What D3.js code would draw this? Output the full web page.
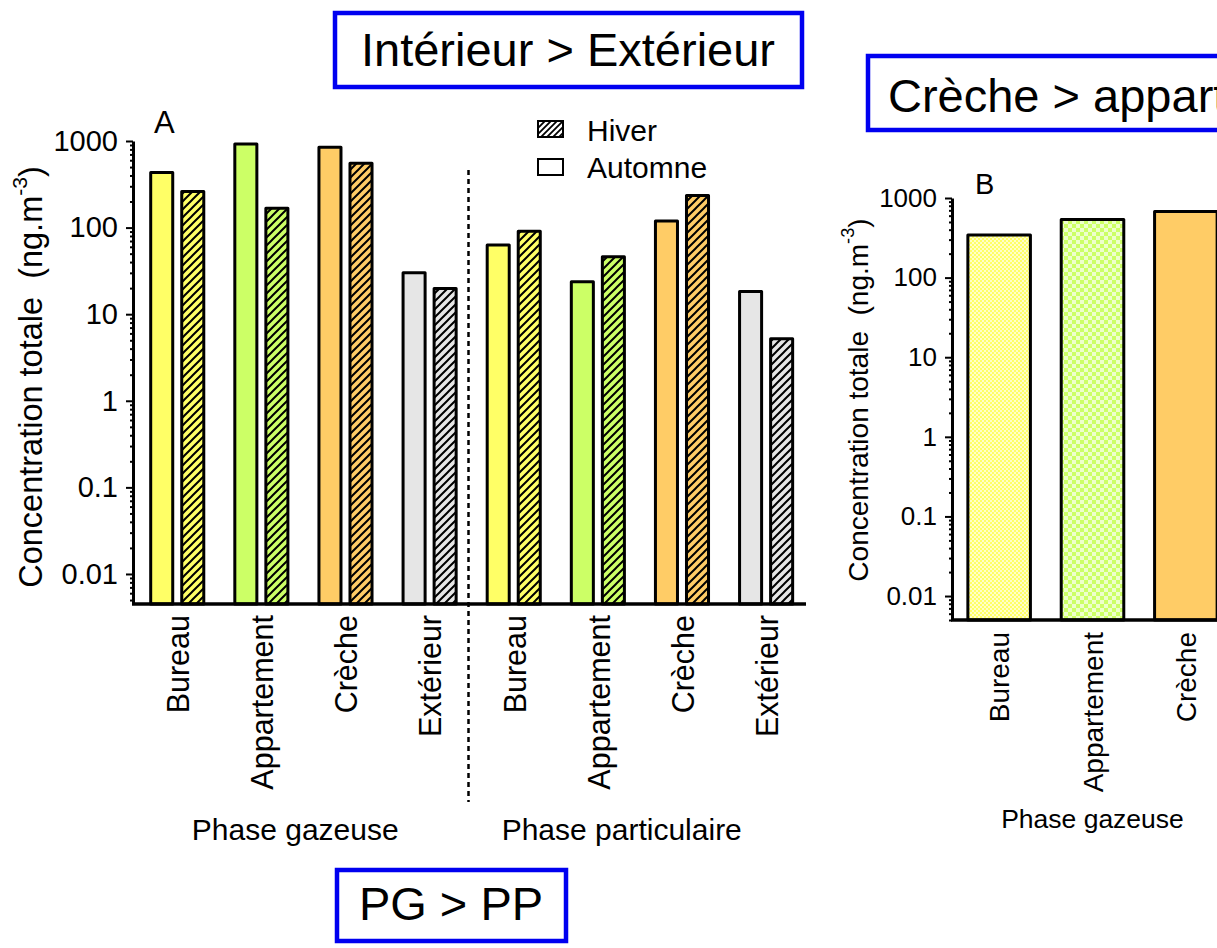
<!DOCTYPE html>
<html>
<head>
<meta charset="utf-8">
<script src="https://cdn.jsdelivr.net/npm/d3@7"></script>
<style>
  html, body { margin: 0; padding: 0; background: #fff; }
  svg { display: block; font-family: "Liberation Sans", Arial, sans-serif; }
</style>
</head>
<body>
<svg id="chart" width="1217" height="948"></svg>
<script>
// ---- Data ----
const sites = ["Bureau", "Appartement", "Crèche", "Extérieur"];
const phases = ["Phase gazeuse", "Phase particulaire"];
const seasons = ["Automne", "Hiver"];
// Concentration totale (ng.m-3), panel A
const automneGazeuse = [433, 923, 845, 30];
const hiverGazeuse = [261, 167, 552, 19.8];
const automneParticulaire = [63, 23.7, 119, 18.3];
const hiverParticulaire = [91, 46, 235, 5.2];
// Panel B, phase gazeuse
const sitesB = ["Bureau", "Appartement", "Crèche"];
const valuesB = [344, 537, 678];
// Log axis ticks
const majorTicks = [0.01, 0.1, 1, 10, 100, 1000];
const tickLabels = ["0.01", "0.1", "1", "10", "100", "1000"];
const siteColors = ["#FFFF66", "#CCFF66", "#FFCC66", "#E6E6E6"];

const svg = d3.select("#chart");
const defs = svg.append("defs");

// diagonal hatch patterns, one per fill colour
siteColors.forEach((c, i) => {
  const p = defs.append("pattern").attr("id", "hatch" + i)
    .attr("patternUnits", "userSpaceOnUse").attr("width", 8).attr("height", 8);
  p.append("rect").attr("width", 8).attr("height", 8).attr("fill", c);
  p.append("path").attr("d", "M-2,2 L2,-2 M0,8 L8,0 M6,10 L10,6")
    .attr("stroke", "#000").attr("stroke-width", 2);
});
// checker patterns for panel B
function checker(id, size, c1, c2) {
  const p = defs.append("pattern").attr("id", id)
    .attr("patternUnits", "userSpaceOnUse").attr("width", size * 2).attr("height", size * 2);
  p.append("rect").attr("width", size * 2).attr("height", size * 2).attr("fill", c2);
  p.append("rect").attr("width", size).attr("height", size).attr("fill", c1);
  p.append("rect").attr("x", size).attr("y", size).attr("width", size).attr("height", size).attr("fill", c1);
}
checker("checkY", 2, "#FFFF66", "#FFFFC8");
checker("checkG", 4, "#CCFF66", "#EEFFCC");
defs.append("clipPath").attr("id", "pageClip")
  .append("rect").attr("width", 1217).attr("height", 948);

const minors = [];
for (let e = -3; e < 3; e++) for (let k = 2; k <= 9; k++) minors.push(k * Math.pow(10, e));

function logAxis(g, y, x0, fontSize, minTick) {
  const mins = minors.filter(v => v >= minTick && v < 1000);
  g.append("g").attr("transform", `translate(${x0},0)`)
    .call(d3.axisLeft(y).tickValues(mins).tickSize(3).tickFormat(""))
    .call(a => a.select(".domain").remove())
    .call(a => a.selectAll("line").attr("stroke", "#000").attr("stroke-width", 2));
  const ax = g.append("g").attr("transform", `translate(${x0},0)`)
    .call(d3.axisLeft(y).tickValues(majorTicks).tickSize(7).tickPadding(8)
      .tickFormat((d, i) => tickLabels[i]).tickSizeOuter(0));
  ax.select(".domain").attr("stroke", "#000").attr("stroke-width", 3);
  ax.selectAll("line").attr("stroke", "#000").attr("stroke-width", 2);
  ax.selectAll("text").attr("font-size", fontSize).attr("fill", "#000")
    .attr("font-family", "Liberation Sans, Arial, sans-serif");
}

function yTitle(x, y, size) {
  const t = svg.append("text").attr("transform", `translate(${x},${y}) rotate(-90)`)
    .attr("text-anchor", "middle").attr("dominant-baseline", "central")
    .attr("font-size", size).attr("xml:space", "preserve");
  t.append("tspan").text("Concentration totale  (ng.m");
  t.append("tspan").attr("baseline-shift", "super").attr("font-size", size * 0.65).text("-3");
  t.append("tspan").text(")");
}

function titleBox(x, y, w, h, label, tx, ty, anchor) {
  const g = svg.append("g").attr("clip-path", "url(#pageClip)");
  g.append("rect").attr("x", x).attr("y", y).attr("width", w).attr("height", h)
    .attr("fill", "#fff").attr("stroke", "#0000F0").attr("stroke-width", 4.5);
  g.append("text").attr("x", tx).attr("y", ty).attr("text-anchor", anchor)
    .attr("font-size", 47).text(label);
}

// ---- Panel A ----
const A = { left: 133, right: 806, top: 141, bottom: 604 };
const yA = d3.scaleLog().domain([0.0045, 1000]).range([A.bottom, A.top]);
const groupsA = d3.range(8);
const xA = d3.scaleBand().domain(groupsA).range([A.left, A.right]);
const xInA = d3.scaleBand().domain(seasons).range([0, xA.bandwidth()])
  .paddingInner(0.29).paddingOuter(0.5).align(0.57);

const barsA = [];
[[automneGazeuse, hiverGazeuse], [automneParticulaire, hiverParticulaire]].forEach((pair, ph) => {
  sites.forEach((s, i) => {
    seasons.forEach((season, si) => {
      barsA.push({ group: ph * 4 + i, site: i, season, value: pair[si][i] });
    });
  });
});

const gA = svg.append("g");
gA.selectAll("rect.bar").data(barsA).join("rect").attr("class", "bar")
  .attr("x", d => xA(d.group) + xInA(d.season))
  .attr("width", xInA.bandwidth())
  .attr("y", d => yA(d.value))
  .attr("height", d => A.bottom - yA(d.value))
  .attr("fill", d => d.season === "Hiver" ? `url(#hatch${d.site})` : siteColors[d.site])
  .attr("stroke", "#000").attr("stroke-width", 3).attr("stroke-linejoin", "round");

logAxis(gA, yA, A.left, 29, 0.005);

// x axis with rotated site names
const xAxA = gA.append("g").attr("transform", `translate(0,${A.bottom})`)
  .call(d3.axisBottom(d3.scaleBand().domain(groupsA).range([A.left + 3, A.right + 3]))
    .tickSize(0).tickSizeOuter(0).tickFormat(d => sites[d % 4]));
xAxA.select(".domain").attr("stroke", "#000").attr("stroke-width", 3.5)
  .attr("d", `M${A.left - 1},0H${A.right}`);
xAxA.selectAll("text").attr("font-size", 30.5).attr("fill", "#000")
  .attr("font-family", "Liberation Sans, Arial, sans-serif")
  .attr("transform", "rotate(-90)").attr("text-anchor", "end")
  .attr("x", -11).attr("y", 0).attr("dy", "0.36em");

// phase labels
phases.forEach((p, i) => {
  const cx = (xA(i * 4) + xA(i * 4 + 3) + xA.bandwidth()) / 2;
  gA.append("text").attr("x", cx - 6 - i * 10).attr("y", 840)
    .attr("text-anchor", "middle").attr("font-size", 30).text(p);
});

// separator between phases
gA.append("line").attr("x1", xA(4) - 1).attr("x2", xA(4) - 1)
  .attr("y1", 170).attr("y2", 802)
  .attr("stroke", "#000").attr("stroke-width", 2.5).attr("stroke-dasharray", "5,4");

gA.append("text").attr("x", 154).attr("y", 133).attr("font-size", 31).text("A");
yTitle(31, 377, 32.5);

// legend
const legend = [{ label: "Hiver", fill: "url(#hatchL)" }, { label: "Automne", fill: "#fff" }];
const pL = defs.append("pattern").attr("id", "hatchL")
  .attr("patternUnits", "userSpaceOnUse").attr("width", 6).attr("height", 6);
pL.append("rect").attr("width", 6).attr("height", 6).attr("fill", "#fff");
pL.append("path").attr("d", "M-1.5,1.5 L1.5,-1.5 M0,6 L6,0 M4.5,7.5 L7.5,4.5")
  .attr("stroke", "#000").attr("stroke-width", 1.8);
legend.forEach((l, i) => {
  gA.append("rect").attr("x", 538).attr("y", 121 + i * 38).attr("width", 25).attr("height", 16)
    .attr("fill", l.fill).attr("stroke", "#000").attr("stroke-width", 2);
  gA.append("text").attr("x", 587).attr("y", 141 + i * 37).attr("font-size", 30).text(l.label);
});

// ---- Panel B ----
const B = { left: 952, right: 1233, top: 198, bottom: 620 };
const yB = d3.scaleLog().domain([0.005, 1000]).range([B.bottom, B.top]);
const xB = d3.scaleBand().domain(sitesB).range([B.left, B.right]).paddingInner(0.33).paddingOuter(0.17);
const fillsB = ["url(#checkY)", "url(#checkG)", "#FFCC66"];
const gB = svg.append("g");
gB.selectAll("rect.bar").data(valuesB).join("rect").attr("class", "bar")
  .attr("x", (d, i) => xB(sitesB[i]))
  .attr("width", xB.bandwidth())
  .attr("y", d => yB(d))
  .attr("height", d => B.bottom - yB(d))
  .attr("fill", (d, i) => fillsB[i])
  .attr("stroke", "#000").attr("stroke-width", 3).attr("stroke-linejoin", "round");

logAxis(gB, yB, B.left, 26, 0.005);

const xAxB = gB.append("g").attr("transform", `translate(0,${B.bottom})`)
  .call(d3.axisBottom(xB).tickSize(0).tickSizeOuter(0));
xAxB.select(".domain").attr("stroke", "#000").attr("stroke-width", 3.5)
  .attr("d", `M${B.left - 1},0H${B.right}`);
xAxB.selectAll("text").attr("font-size", 28).attr("fill", "#000")
  .attr("font-family", "Liberation Sans, Arial, sans-serif")
  .attr("transform", "rotate(-90)").attr("text-anchor", "end")
  .attr("x", -12).attr("y", 0).attr("dy", "0.36em");

gB.append("text").attr("x", xB("Appartement") + xB.bandwidth() / 2).attr("y", 828)
  .attr("text-anchor", "middle").attr("font-size", 26.5).text("Phase gazeuse");
gB.append("text").attr("x", 975).attr("y", 194).attr("font-size", 29).text("B");
yTitle(858, 400, 28);

// ---- Summary boxes ----
titleBox(335, 13, 467, 74, "Intérieur > Extérieur", 568, 66, "middle");
titleBox(868, 56, 500, 74, "Crèche > appartement > bureau", 888, 112, "start");
titleBox(337, 870, 229, 71, "PG > PP", 451, 920, "middle");
</script>
</body>
</html>
